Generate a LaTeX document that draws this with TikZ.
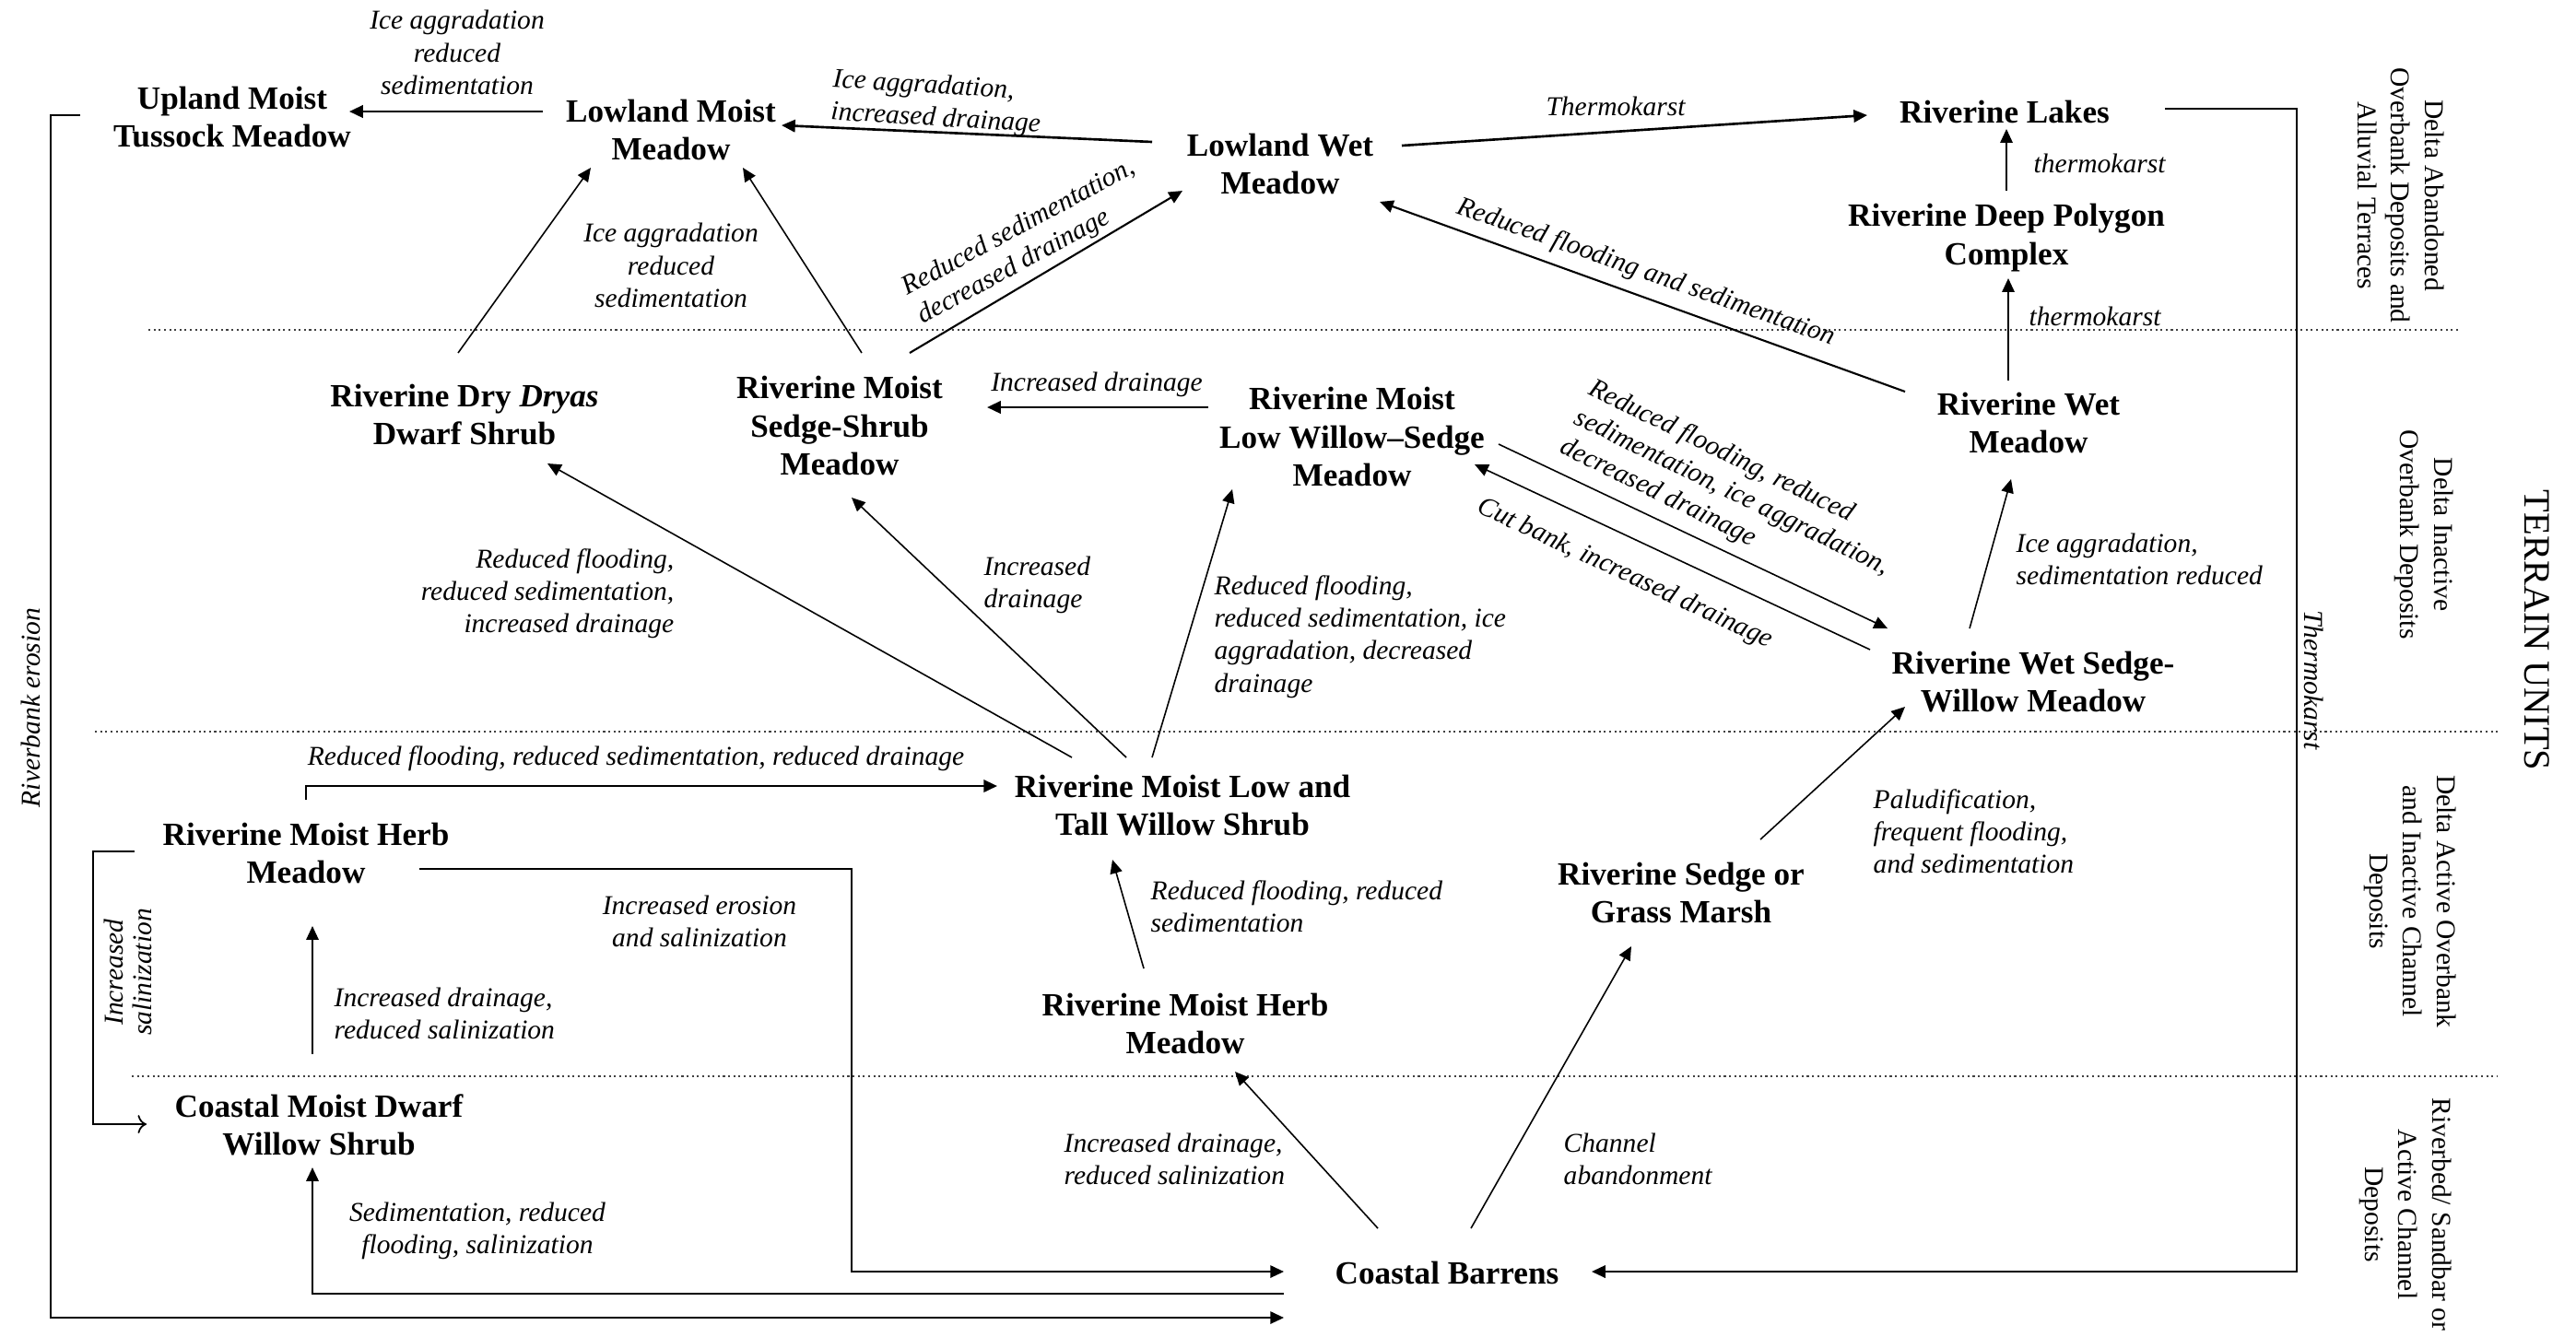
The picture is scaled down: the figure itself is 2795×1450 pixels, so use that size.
\documentclass[tikz,border=0pt]{standalone}
\usepackage{fontspec}
\setmainfont{Liberation Serif}
\usetikzlibrary{arrows.meta, calc}

\begin{document}
\begin{tikzpicture}[
            x=0.01cm, y=-0.01cm,
            >={Triangle[length=4.2pt, width=3.8pt]},
            unit/.style={font=\fontsize{10}{11.8}\selectfont\bfseries, align=center, inner sep=0pt},
            cause/.style={font=\fontsize{8.4}{10}\selectfont\itshape, align=center, inner sep=0pt},
            terrain/.style={font=\fontsize{8.4}{10.5}\selectfont, align=center, inner sep=0pt, rotate=-90},
            trans/.style={->, line width=0.45pt},
            medium/.style={->, line width=0.6pt},
            heavy/.style={->, line width=0.75pt},
            zone/.style={densely dotted, line width=0.6pt, black!75}
        ]
        \useasboundingbox (0,0) rectangle (2795,1450);

        % zone boundaries
        \draw[zone] (161,358) -- (2667,358);
        \draw[zone] (103,794) -- (2712,794);
        \draw[zone] (143,1168) -- (2709,1168);

        % vegetation units
        \node[unit] (upland) at (252,127) {Upland Moist\\Tussock Meadow};
        \node[unit] (lmoist) at (728,141) {Lowland Moist\\Meadow};
        \node[unit] (lwet) at (1389,178) {Lowland Wet\\Meadow};
        \node[unit] (lakes) at (2175,121) {Riverine Lakes};
        \node[unit] (polygon) at (2177,258) {Riverine Deep Polygon\\Complex};
        \node[unit] (rwet) at (2201,459) {Riverine Wet\\Meadow};
        \node[unit] (wetsedge) at (2206,740) {Riverine Wet Sedge-\\Willow Meadow};
        \node[unit] (lowsedge) at (1467,474) {Riverine Moist\\Low Willow--Sedge\\Meadow};
        \node[unit] (sedgeshrub) at (911,462) {Riverine Moist\\Sedge-Shrub\\Meadow};
        \node[unit] (dryas) at (504,450) {Riverine Dry \textit{Dryas}\\Dwarf Shrub};
        \node[unit] (lowtall) at (1283,874) {Riverine Moist Low and\\Tall Willow Shrub};
        \node[unit] (herbL) at (332,926) {Riverine Moist Herb\\Meadow};
        \node[unit] (herbC) at (1286,1111) {Riverine Moist Herb\\Meadow};
        \node[unit] (marsh) at (1824,969) {Riverine Sedge or\\Grass Marsh};
        \node[unit] (coastal) at (346,1221) {Coastal Moist Dwarf\\Willow Shrub};
        \node[unit] (barrens) at (1570,1381) {Coastal Barrens};

        % transitions
        \draw[heavy] ($(lmoist)+(-139,-20)$) -- ($(upland)+(127,-6)$);
        \draw[heavy] ($(lwet)+(-139,-24)$) -- ($(lmoist)+(120,-5)$);
        \draw[trans] ($(sedgeshrub)+(24,-79)$) -- ($(lmoist)+(78,41)$);
        \draw[trans] ($(dryas)+(-7,-67)$) -- ($(lmoist)+(-87,41)$);
        \draw[medium] ($(sedgeshrub)+(76,-79)$) -- ($(lwet)+(-106,29)$);
        \draw[heavy] ($(lwet)+(132,-20)$) -- ($(lakes)+(-149,4)$);
        \draw[trans] ($(polygon)+(0,-51)$) -- ($(lakes)+(2,19)$);
        \draw[trans] ($(rwet)+(-22,-46)$) -- ($(polygon)+(2,44)$);
        \draw[medium] ($(rwet)+(-134,-34)$) -- ($(lwet)+(108,41)$);
        \draw[heavy] ($(lowsedge)+(-156,-32)$) -- ($(sedgeshrub)+(160,-20)$);
        \draw[trans] ($(lowsedge)+(159,8)$) -- ($(wetsedge)+(-158,-58)$);
        \draw[trans] ($(wetsedge)+(-177,-35)$) -- ($(lowsedge)+(133,30)$);
        \draw[trans] ($(wetsedge)+(-69,-58)$) -- ($(rwet)+(-19,61)$);
        \draw[trans] ($(marsh)+(86,-58)$) -- ($(wetsedge)+(-139,27)$);
        \draw[trans] ($(barrens)+(26,-48)$) -- ($(marsh)+(-54,58)$);
        \draw[trans] ($(barrens)+(-75,-48)$) -- ($(herbC)+(54,52)$);
        \draw[trans] ($(herbC)+(-45,-60)$) -- ($(lowtall)+(-76,59)$);
        \draw[trans] ($(lowtall)+(-120,-52)$) -- ($(dryas)+(90,53)$);
        \draw[trans] ($(lowtall)+(-61,-52)$) -- ($(sedgeshrub)+(13,78)$);
        \draw[trans] ($(lowtall)+(-33,-52)$) -- ($(lowsedge)+(-130,57)$);
        \draw[heavy] ($(herbL)+(0,-58)$) |- ($(lowtall)+(-201,-21)$);
        \draw[medium] ($(herbL)+(123,17)$) -- ++(469,0) |- ($(barrens)+(-177,-1)$);
        \draw[trans] ($(coastal)+(-7,-77)$) -- ($(herbL)+(7,79)$);
        \draw[medium] ($(barrens)+(-177,23)$) -| ($(coastal)+(-7,46)$);
        \draw[medium] ($(upland)+(-165,-2)$) -- ++(-32,0) |- ($(barrens)+(-177,49)$);
        \draw[-To, line width=0.5pt] ($(herbL)+(-186,-2)$) -- ++(-45,0) |- ($(coastal)+(-187,-1)$);
        \draw[medium] ($(lakes)+(174,-3)$) -- ++(143,0) |- ($(barrens)+(157,-1)$);

        % transition labels
        \node[cause] (la) at (496,57) {Ice aggradation\\reduced\\sedimentation};
        \node[cause, align=left, anchor=west, rotate=-3.5] (lb) at (902,105) {Ice aggradation,\\increased drainage};
        \node[cause] (lcd) at (728,288) {Ice aggradation\\reduced\\sedimentation};
        \node[cause, align=left, rotate=28.4] (le) at (1114,263) {Reduced sedimentation,\\decreased drainage};
        \node[cause] (lf) at (1753,115) {Thermokarst};
        \node[cause, anchor=west] (lg) at (2206,177) {thermokarst};
        \node[cause, anchor=west] (lh) at (2201,343) {thermokarst};
        \node[cause, rotate=-19.4] (li) at (1786,296) {Reduced flooding and sedimentation};
        \node[cause] (lj) at (1190,417) {Increased drainage};
        \node[cause, align=left, rotate=-26] (lk) at (1879,535) {Reduced flooding, reduced\\sedimentation, ice aggradation,\\decreased drainage};
        \node[cause, rotate=-25] (ll) at (1763,623) {Cut bank, increased drainage};
        \node[cause, align=left, anchor=west] (lm) at (2187,607) {Ice aggradation,\\sedimentation reduced};
        \node[cause, align=left, anchor=west] (ln) at (2032,902) {Paludification,\\frequent flooding,\\and sedimentation};
        \node[cause, align=left, anchor=west] (lo) at (1696,1258) {Channel\\abandonment};
        \node[cause, align=left, anchor=west] (lp) at (1154,1258) {Increased drainage,\\reduced salinization};
        \node[cause, align=left, anchor=west] (lq) at (1248,984) {Reduced flooding, reduced\\sedimentation};
        \node[cause, align=right, anchor=east] (lr) at (732,644) {Reduced flooding,\\reduced sedimentation,\\increased drainage};
        \node[cause, align=left, anchor=west] (ls) at (1067,635) {Increased\\drainage};
        \node[cause, align=left, anchor=west] (lt) at (1317,691) {Reduced flooding,\\reduced sedimentation, ice\\aggradation, decreased\\drainage};
        \node[cause] (lu) at (690,823) {Reduced flooding, reduced sedimentation, reduced drainage};
        \node[cause] (lv) at (759,1000) {Increased erosion\\and salinization};
        \node[cause, align=left, anchor=west] (lw) at (362,1100) {Increased drainage,\\reduced salinization};
        \node[cause] (lx) at (518,1336) {Sedimentation, reduced\\flooding, salinization};
        \node[cause, rotate=90] (lbank) at (33,768) {Riverbank erosion};
        \node[cause, rotate=90, font=\fontsize{8.4}{9}\selectfont\itshape] (lsalt) at (139,1055) {Increased\\salinization};
        \node[cause, rotate=-90] (lkarst) at (2511,738) {Thermokarst};

        % terrain units
        \node[terrain] (tabandoned) at (2605,212) {Delta Abandoned\\Overbank Deposits and\\Alluvial Terraces};
        \node[terrain] (tinactive) at (2630,580) {Delta Inactive\\Overbank Deposits};
        \node[terrain] (tactive) at (2615,978) {Delta Active Overbank\\and Inactive Channel\\Deposits};
        \node[terrain] (triverbed) at (2610,1318) {Riverbed/ Sandbar or\\Active Channel\\Deposits};
        \node[terrain, font=\fontsize{11.5}{13}\selectfont] (tunits) at (2753,684) {TERRAIN UNITS};
    \end{tikzpicture}
\end{document}
